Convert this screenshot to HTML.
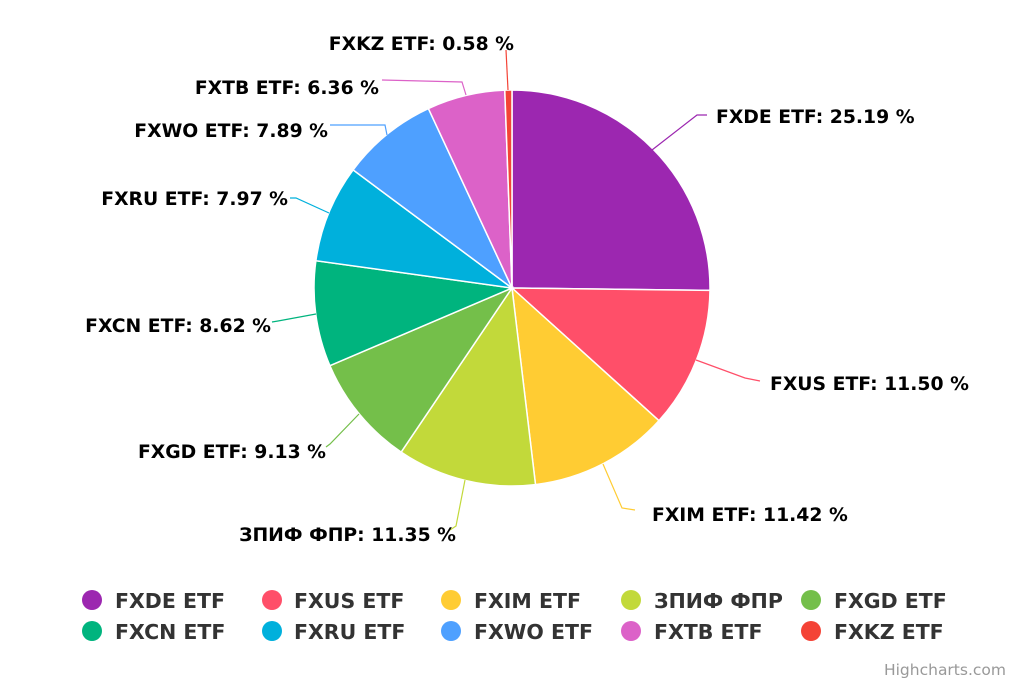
<!DOCTYPE html>
<html><head><meta charset="utf-8"><style>
html,body{margin:0;padding:0;background:#fff;}
svg{display:block;font-family:"DejaVu Sans","Liberation Sans",sans-serif;}
.l{font-size:18.8px;font-weight:bold;fill:#000;}
.g{font-size:20.5px;font-weight:bold;fill:#333;}
</style></head><body>
<svg id="s" width="1024" height="683" viewBox="0 0 1024 683">
<g id="pie"></g>
<g fill="none" stroke-width="1.2">
<polyline points="652,150 697,115 707,115" stroke="#9c27b0"/>
<polyline points="696,360 745,378 760,381" stroke="#ff4f69"/>
<polyline points="603,464 622,508 635,510" stroke="#ffcc33"/>
<polyline points="465,480 456,526 450,530" stroke="#c2d93a"/>
<polyline points="359,414 330,444 326,447" stroke="#74bf4a"/>
<polyline points="316,314 278,321 272,322" stroke="#00b47e"/>
<polyline points="329,213 296,198 290,198" stroke="#00b0dc"/>
<polyline points="387,135 385,125 330,125" stroke="#4ea0ff"/>
<polyline points="466,95 462,82 382,80" stroke="#dc62c8"/>
<polyline points="508,90 506,50" stroke="#f44336"/>
</g>
<text class="l" x="716" y="123">FXDE ETF: 25.19 %</text>
<text class="l" x="770" y="390">FXUS ETF: 11.50 %</text>
<text class="l" x="652" y="521">FXIM ETF: 11.42 %</text>
<g text-anchor="end">
<text class="l" x="456" y="541">ЗПИФ ФПР: 11.35 %</text>
<text class="l" x="326" y="458">FXGD ETF: 9.13 %</text>
<text class="l" x="271" y="332">FXCN ETF: 8.62 %</text>
<text class="l" x="288" y="205">FXRU ETF: 7.97 %</text>
<text class="l" x="328" y="137">FXWO ETF: 7.89 %</text>
<text class="l" x="379" y="94">FXTB ETF: 6.36 %</text>
<text class="l" x="514" y="50">FXKZ ETF: 0.58 %</text>
</g>
<g>
<circle cx="92" cy="600" r="10" fill="#9c27b0"/><text class="g" x="115" y="608">FXDE ETF</text>
<circle cx="272" cy="600" r="10" fill="#ff4f69"/><text class="g" x="294" y="608">FXUS ETF</text>
<circle cx="451" cy="600" r="10" fill="#ffcc33"/><text class="g" x="474" y="608">FXIM ETF</text>
<circle cx="631" cy="600" r="10" fill="#c2d93a"/><text class="g" x="654" y="608">ЗПИФ ФПР</text>
<circle cx="811" cy="600" r="10" fill="#74bf4a"/><text class="g" x="834" y="608">FXGD ETF</text>
<circle cx="92" cy="631" r="10" fill="#00b47e"/><text class="g" x="115" y="639">FXCN ETF</text>
<circle cx="272" cy="631" r="10" fill="#00b0dc"/><text class="g" x="294" y="639">FXRU ETF</text>
<circle cx="451" cy="631" r="10" fill="#4ea0ff"/><text class="g" x="474" y="639">FXWO ETF</text>
<circle cx="631" cy="631" r="10" fill="#dc62c8"/><text class="g" x="654" y="639">FXTB ETF</text>
<circle cx="811" cy="631" r="10" fill="#f44336"/><text class="g" x="834" y="639">FXKZ ETF</text>
</g>
<text x="1006" y="675" text-anchor="end" style="font-size:15.5px;fill:#999">Highcharts.com</text>
</svg>
<script>
var d=[25.19,11.50,11.42,11.35,9.13,8.62,7.97,7.89,6.36,0.58];
var c=["#9c27b0","#ff4f69","#ffcc33","#c2d93a","#74bf4a","#00b47e","#00b0dc","#4ea0ff","#dc62c8","#f44336"];
var cx=512,cy=288,r=198,t=d.reduce(function(a,b){return a+b},0),a=0,h="";
function p(x){return [cx+r*Math.sin(x),cy-r*Math.cos(x)];}
d.forEach(function(v,i){var a2=a+v/t*2*Math.PI,s=p(a),e=p(a2);
h+='<path d="M'+cx+','+cy+'L'+s[0]+','+s[1]+'A'+r+','+r+' 0 '+(a2-a>Math.PI?1:0)+' 1 '+e[0]+','+e[1]+'Z" fill="'+c[i]+'" stroke="#fff" stroke-width="1.5"/>';a=a2;});
document.getElementById("pie").innerHTML=h;
</script>
</body></html>
